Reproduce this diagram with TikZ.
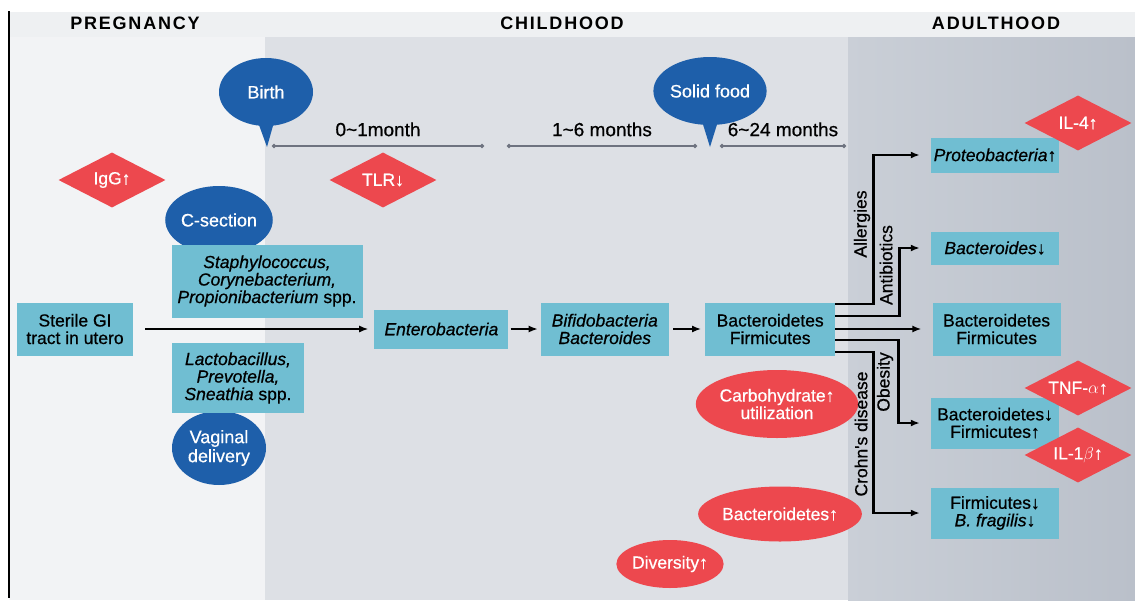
\documentclass[tikz,border=0pt]{standalone}
\usepackage{fontspec}
\setmainfont{Liberation Sans}
\newfontfamily\headfont[LetterSpace=10]{Liberation Sans}
\newfontfamily\medfont[FakeBold=0.6]{Liberation Sans}
\usetikzlibrary{arrows.meta}
\usetikzlibrary{positioning,shapes.geometric}
\definecolor{bubbleblue}{RGB}{30,95,170}
\definecolor{boxcyan}{RGB}{112,190,210}
\definecolor{markred}{RGB}{237,72,78}
\definecolor{pregbg}{RGB}{242,243,245}
\definecolor{childbg}{RGB}{221,224,229}
\definecolor{adultbg}{RGB}{202,207,215}
\definecolor{adultbgr}{RGB}{186,192,202}
\definecolor{headbg}{RGB}{238,240,242}
\definecolor{tlgray}{RGB}{110,115,128}
\newcommand{\up}{{\upshape ↑}}
\newcommand{\dn}{{\upshape ↓}}

\begin{document}
\begin{tikzpicture}[x=1pt,y=-1pt,
  every node/.style={font=\medfont\fontsize{17.5}{17.5}\selectfont, align=center},
  box/.style={rectangle, fill=boxcyan, inner sep=0pt, minimum width=128pt},
  bubble/.style={ellipse, fill=bubbleblue, text=white, inner sep=0pt,
    minimum width=94pt, minimum height=68pt, font=\medfont\fontsize{18}{19}\selectfont},
  redgem/.style={diamond, fill=markred, inner sep=0pt,
    minimum width=107pt, minimum height=55pt},
  gemlabel/.style={text=white, inner sep=1pt},
  redoval/.style={ellipse, fill=markred, text=white, inner sep=0pt},
  flow/.style={-{Latex[length=9pt,width=7pt]}, line width=1.4pt},
  branch/.style={-{Latex[length=9pt,width=7pt]}, line width=2.2pt, shorten >=11pt},
  phase/.style={font=\headfont\bfseries\fontsize{18}{18}\selectfont},
  span/.style={tlgray, line width=1.3pt, {Circle[length=4pt]}-{Circle[length=4pt]}},
  spanlabel/.style={text=black, font=\medfont\fontsize{19}{19}\selectfont, inner sep=0pt, above=9pt}]
  \useasboundingbox (0,0) rectangle (1135,600);

  \fill[pregbg] (9,37) rectangle (265,600);
  \fill[childbg] (265,37) rectangle (848,600);
  \shade[left color=adultbg, right color=adultbgr] (848,37) rectangle (1135,600);
  \fill[headbg] (9,12) rectangle (1135,37);
  \draw[line width=1.8pt] (9,11) -- (9,598);

  \node[phase] (preg) at (135,23) {PREGNANCY};
  \node[phase] (child) at (562,23) {CHILDHOOD};
  \node[phase] (adult) at (996,23) {ADULTHOOD};

  \coordinate (t1) at (272,146);
  \coordinate (t2) at (484,146);
  \coordinate (t3) at (507,146);
  \coordinate (t4) at (697,146);
  \coordinate (t5) at (720,146);
  \coordinate (t6) at (846,146);
  \draw[span] (t1) -- (t2) node[midway, spanlabel] {0\textasciitilde1month};
  \draw[span] (t3) -- (t4) node[midway, spanlabel] {1\textasciitilde6 months};
  \draw[span] (t5) -- (t6) node[midway, spanlabel] {6\textasciitilde24 months};

  \node[bubble] (birth) at (266,92) {Birth};
  \coordinate (birthtip) at (267,147);
  \fill[bubbleblue] ([xshift=-8pt,yshift=4pt]birth.south) -- (birthtip)
    -- ([xshift=8pt,yshift=4pt]birth.south) -- cycle;
  \node[bubble] (solid) at (710,91) {Solid food};
  \coordinate (solidtip) at (710,147);
  \fill[bubbleblue] ([xshift=-8pt,yshift=4pt]solid.south) -- (solidtip)
    -- ([xshift=8pt,yshift=4pt]solid.south) -- cycle;

  \node[redgem] (igg) at (112,180) {};
  \node[gemlabel] (igglabel) at (igg) {IgG\up};
  \node[redgem] (tlr) at (383,180) {};
  \node[gemlabel] (tlrlabel) at (tlr) {TLR\dn};

  \node[bubble] (csec) at (219,220) {C-section};
  \node[bubble, minimum height=74pt] (vag) at (219,448) {Vaginal\\delivery};
  \node[box, minimum width=116pt, minimum height=53pt] (sterile) at (75,329) {Sterile GI\\tract in utero};
  \node[box, minimum width=191pt, minimum height=73pt] (staph) at (267,281)
    {\textit{Staphylococcus,}\\\textit{Corynebacterium,}\\\textit{Propionibacterium} spp.};
  \node[box, minimum width=132pt, minimum height=70pt] (lacto) at (238,378)
    {\textit{Lactobacillus,}\\\textit{Prevotella,}\\\textit{Sneathia} spp.};

  \node[box, minimum width=134pt, minimum height=39pt, right=241pt of sterile] (entero) {\textit{Enterobacteria}};
  \node[box, minimum height=53pt, right=32pt of entero] (bifido) {\textit{Bifidobacteria}\\\textit{Bacteroides}};
  \node[box, minimum width=130pt, minimum height=53pt, right=36pt of bifido] (bf) {Bacteroidetes\\Firmicutes};

  \node[box, minimum height=35pt] (proteo) at (995,155) {\textit{Proteobacteria}\up};
  \node[box, minimum height=33pt] (bactd) at (995,248) {\textit{Bacteroides}\dn};
  \node[box, minimum height=53pt, right=97pt of bf] (bfadult) {Bacteroidetes\\Firmicutes};
  \node[box, minimum height=51pt] (obese) at (995,423) {Bacteroidetes\dn\\Firmicutes\up};
  \node[box, minimum height=51pt] (crohn) at (995,513) {Firmicutes\dn\\\textit{B. fragilis}\dn};

  \node[redgem] (il4) at (1078,123) {};
  \node[gemlabel] (il4label) at (il4) {IL-4\up};
  \node[redgem] (tnf) at (1078,388) {};
  \node[gemlabel] (tnflabel) at (tnf) {TNF-$\alpha$\up};
  \node[redgem] (il1) at (1078,455) {};
  \node[gemlabel] (il1label) at (il1) {IL-1$\beta$\up};

  \node[redoval, minimum width=140pt, minimum height=68pt] (carb) at (777,404) {Carbohydrate\up\\utilization};
  \node[redoval, minimum width=132pt, minimum height=55pt] (bactup) at (780,514) {Bacteroidetes\up};
  \node[redoval, minimum width=91pt, minimum height=48pt] (divers) at (670,564) {Diversity\up};

  \draw[flow, shorten <=12pt, shorten >=6pt] (sterile) -- (entero);
  \draw[flow, shorten <=2pt, shorten >=3pt] (entero) -- (bifido);
  \draw[flow, shorten <=4pt, shorten >=4pt] (bifido) -- (bf);

  \draw[branch] ([yshift=25pt]bf.east) -- ++(38,0) |- (proteo.west);
  \draw[branch] ([yshift=13pt]bf.east) -- ++(64,0) |- (bactd.west);
  \draw[branch] (bf.east) -- (bfadult.west);
  \draw[branch] ([yshift=-11pt]bf.east) -- ++(63,0) |- (obese.west);
  \draw[branch] ([yshift=-23pt]bf.east) -- ++(38,0) |- (crohn.west);

  \node[rotate=90] (lallerg) at (862,224) {Allergies};
  \node[rotate=90] (lantib) at (886,265) {Antibiotics};
  \node[rotate=90] (lobes) at (885,382) {Obesity};
  \node[rotate=90] (lcrohn) at (861,434) {Crohn's disease};
\end{tikzpicture}
\end{document}
